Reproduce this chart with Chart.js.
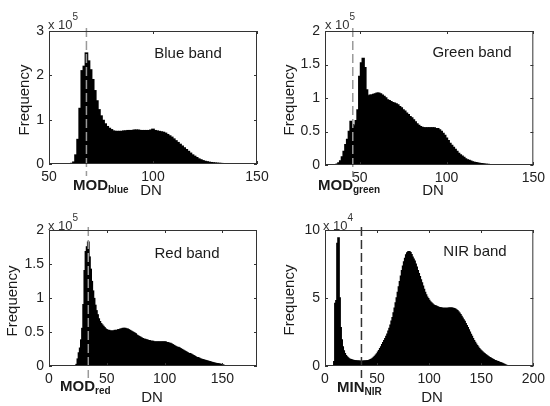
<!DOCTYPE html>
<html>
<head>
<meta charset="utf-8">
<script src="https://cdn.jsdelivr.net/npm/chart.js@4.4.1/dist/chart.umd.min.js"></script>
<style>
  body { margin: 0; background: #fff; }
  #wrap { position: relative; width: 550px; height: 406px; font-family: "Liberation Sans", Arial, sans-serif; color: #1a1a1a; }
  canvas { position: absolute; }
  .t { position: absolute; white-space: nowrap; line-height: 1; transform: translate(-50%, -50%); font-size: 15px; }
  .ylab { transform: translate(-50%, -50%) rotate(-90deg); }
  .mod { position: absolute; white-space: nowrap; line-height: 1; transform: translate(0, -50%); font-size: 15px; font-weight: bold; }
  .mod sub { font-size: 10px; vertical-align: -3px; }
  .exp { position: absolute; white-space: nowrap; line-height: 1; transform: translate(0, -50%); font-size: 13px; color: #333; }
  .exp sup { font-size: 10px; vertical-align: 9px; }
</style>
</head>
<body>
<div id="wrap">
  <canvas id="blueChart" width="275" height="203" style="left:0;top:0"></canvas>
  <canvas id="greenChart" width="275" height="203" style="left:275px;top:0"></canvas>
  <canvas id="redChart" width="275" height="203" style="left:0;top:203px"></canvas>
  <canvas id="nirChart" width="275" height="203" style="left:275px;top:203px"></canvas>

  <span class="exp" style="left:48px;top:21px">x 10<sup>5</sup></span>
  <span class="t" style="left:188px;top:52px">Blue band</span>
  <span class="t ylab" style="left:23px;top:100px">Frequency</span>
  <span class="mod" style="left:73px;top:186px">MOD<sub>blue</sub></span>
  <span class="t" style="left:151px;top:189px">DN</span>

  <span class="exp" style="left:325px;top:21px">x 10<sup>5</sup></span>
  <span class="t" style="left:472px;top:51px">Green band</span>
  <span class="t ylab" style="left:288px;top:100px">Frequency</span>
  <span class="mod" style="left:318px;top:186px">MOD<sub>green</sub></span>
  <span class="t" style="left:433px;top:189px">DN</span>

  <span class="exp" style="left:48px;top:222px">x 10<sup>5</sup></span>
  <span class="t" style="left:187px;top:252px">Red band</span>
  <span class="t ylab" style="left:11px;top:301px">Frequency</span>
  <span class="mod" style="left:60px;top:387px">MOD<sub>red</sub></span>
  <span class="t" style="left:152px;top:396px">DN</span>

  <span class="exp" style="left:323px;top:222px">x 10<sup>4</sup></span>
  <span class="t" style="left:475px;top:250px">NIR band</span>
  <span class="t ylab" style="left:288px;top:300px">Frequency</span>
  <span class="mod" style="left:337px;top:388px">MIN<sub>NIR</sub></span>
  <span class="t" style="left:432px;top:396px">DN</span>
</div>

<script>
// ------------------------------
// Data (frequency per DN bin, in units of the axis multiplier)
// ------------------------------

const blueStart = 60;
const blueFreq = [
    0.005, 0.01, 0.04, 0.2, 0.55, 1.25, 2.1, 2.2, 2.5, 2.32,
    2.12, 1.9, 1.65, 1.42, 1.22, 1.08, 0.98, 0.9, 0.84, 0.8,
    0.77, 0.74, 0.73, 0.73, 0.73, 0.73, 0.74, 0.74, 0.75, 0.75,
    0.75, 0.76, 0.76, 0.76, 0.75, 0.75, 0.75, 0.75, 0.75, 0.76,
    0.78, 0.75, 0.74, 0.73, 0.72, 0.71, 0.69, 0.66, 0.63, 0.6,
    0.56, 0.52, 0.48, 0.44, 0.4, 0.36, 0.32, 0.28, 0.24, 0.2,
    0.17, 0.14, 0.11, 0.09, 0.07, 0.055, 0.045, 0.035, 0.028, 0.022,
    0.017, 0.013, 0.01, 0.007, 0.004
];
const blueMode = 68;

const greenStart = 37;
const greenFreq = [
    0.01, 0.03, 0.06, 0.12, 0.2, 0.3, 0.38, 0.5, 0.65, 0.6,
    0.58, 0.66, 0.82, 1.32, 1.52, 1.59, 1.45, 1.12, 1.03, 1.04,
    1.04, 1.05, 1.06, 1.07, 1.07, 1.06, 1.04, 1.02, 1.0, 0.97,
    0.96, 0.945, 0.93, 0.92, 0.91, 0.895, 0.87, 0.85, 0.82, 0.8,
    0.77, 0.75, 0.72, 0.7, 0.67, 0.64, 0.61, 0.59, 0.57, 0.56,
    0.55, 0.55, 0.55, 0.55, 0.55, 0.55, 0.55, 0.54, 0.54, 0.52,
    0.5, 0.47, 0.44, 0.4, 0.36, 0.32, 0.29, 0.26, 0.23, 0.2,
    0.17, 0.15, 0.13, 0.11, 0.09, 0.075, 0.065, 0.055, 0.045, 0.038,
    0.032, 0.027, 0.022, 0.018, 0.014, 0.011, 0.008, 0.006, 0.004, 0.002
];
const greenMode = 46;

const redStart = 24;
const redFreq = [
    0.02, 0.1, 0.19, 0.26, 0.38, 0.55, 0.9, 1.4, 1.68, 1.75,
    1.82, 1.6, 1.42, 1.24, 1.1, 0.99, 0.89, 0.81, 0.75, 0.69,
    0.65, 0.62, 0.6, 0.58, 0.56, 0.54, 0.53, 0.52, 0.52, 0.51,
    0.51, 0.51, 0.51, 0.52, 0.52, 0.52, 0.53, 0.53, 0.54, 0.54,
    0.55, 0.55, 0.55, 0.54, 0.54, 0.53, 0.52, 0.51, 0.5, 0.49,
    0.48, 0.47, 0.45, 0.44, 0.43, 0.42, 0.41, 0.4, 0.39, 0.39,
    0.38, 0.38, 0.37, 0.37, 0.36, 0.36, 0.36, 0.35, 0.35, 0.35,
    0.35, 0.35, 0.35, 0.35, 0.35, 0.35, 0.35, 0.35, 0.34, 0.34,
    0.33, 0.33, 0.32, 0.31, 0.3, 0.29, 0.28, 0.27, 0.27, 0.26,
    0.25, 0.24, 0.23, 0.22, 0.21, 0.2, 0.19, 0.18, 0.18, 0.17,
    0.16, 0.15, 0.14, 0.13, 0.12, 0.12, 0.11, 0.1, 0.095, 0.09,
    0.085, 0.08, 0.075, 0.07, 0.065, 0.06, 0.055, 0.05, 0.045, 0.04,
    0.036, 0.033, 0.03, 0.027, 0.024, 0.02, 0.015, 0.008
];
const redMode = 34;

const nirStart = 9;
const nirFreq = [
    0.3, 4.6, 4.8, 9.0, 9.4, 5.0, 2.8, 1.9, 1.4, 1.1,
    0.9, 0.75, 0.65, 0.58, 0.52, 0.48, 0.45, 0.42, 0.4, 0.38,
    0.37, 0.36, 0.35, 0.34, 0.34, 0.33, 0.33, 0.33, 0.34, 0.34,
    0.35, 0.36, 0.37, 0.39, 0.41, 0.45, 0.5, 0.55, 0.62, 0.7,
    0.78, 0.88, 1.0, 1.12, 1.26, 1.4, 1.55, 1.7, 1.85, 2.0,
    2.16, 2.34, 2.55, 2.75, 3.0, 3.28, 3.55, 3.9, 4.25, 4.62,
    5.0, 5.4, 5.8, 6.2, 6.6, 7.0, 7.33, 7.65, 7.9, 8.15,
    8.3, 8.38, 8.4, 8.32, 8.18, 8.0, 7.85, 7.7, 7.48, 7.25,
    7.0, 6.78, 6.55, 6.32, 6.1, 5.86, 5.62, 5.4, 5.22, 5.06,
    4.95, 4.82, 4.7, 4.62, 4.55, 4.48, 4.43, 4.4, 4.37, 4.33,
    4.3, 4.28, 4.26, 4.24, 4.23, 4.22, 4.22, 4.22, 4.22, 4.23,
    4.24, 4.25, 4.25, 4.24, 4.22, 4.2, 4.17, 4.12, 4.05, 3.97,
    3.87, 3.77, 3.63, 3.5, 3.38, 3.26, 3.1, 2.95, 2.8, 2.65,
    2.48, 2.32, 2.17, 2.0, 1.86, 1.72, 1.6, 1.48, 1.37, 1.27,
    1.18, 1.1, 1.03, 0.96, 0.89, 0.83, 0.77, 0.72, 0.66, 0.61,
    0.56, 0.51, 0.47, 0.43, 0.39, 0.36, 0.33, 0.3, 0.27, 0.24,
    0.21, 0.18, 0.14, 0.1, 0.07, 0.04, 0.02
];
const nirMin = 35;

// tick values
const blueXTicks = [50, 100, 150];
const blueYTicks = [0, 1, 2, 3];
const greenXTicks = [50, 100, 150];
const greenYTicks = [0, 0.5, 1, 1.5, 2];
const redXTicks = [0, 50, 100, 150];
const redYTicks = [0, 0.5, 1, 1.5, 2];
const nirXTicks = [0, 50, 100, 150, 200];
const nirYTicks = [0, 5, 10];


Chart.defaults.font.family = "'Liberation Sans', Arial, sans-serif";
Chart.defaults.font.size = 14;
Chart.defaults.color = "#222";


// ------------------------------
// Matlab-like box, inward ticks and dashed marker
// ------------------------------

const matlabBox = {

    id: "matlabBox",

    afterDraw(chart, args, opts) {

        const ctx = chart.ctx;
        const a = chart.chartArea;
        const xs = chart.scales.x;
        const ys = chart.scales.y;

        ctx.save();

        // dashed marker line
        const px = xs.getPixelForValue(opts.mark);
        ctx.strokeStyle = opts.markColor;
        ctx.lineWidth = 1.5;
        ctx.setLineDash([9, 4]);
        ctx.beginPath();
        ctx.moveTo(px, a.top - 3);
        ctx.lineTo(px, a.bottom + 12);
        ctx.stroke();
        ctx.setLineDash([]);

        // box
        ctx.strokeStyle = "#333";
        ctx.lineWidth = 1;
        ctx.strokeRect(a.left + 0.5, a.top + 0.5, a.right - a.left - 1, a.bottom - a.top - 1);

        // inward ticks on all four sides
        ctx.beginPath();
        xs.ticks.forEach(t => {
            const p = Math.round(xs.getPixelForValue(t.value)) + 0.5;
            ctx.moveTo(p, a.bottom); ctx.lineTo(p, a.bottom - 3);
            ctx.moveTo(p, a.top); ctx.lineTo(p, a.top + 3);
        });
        ys.ticks.forEach(t => {
            const p = Math.round(ys.getPixelForValue(t.value)) + 0.5;
            ctx.moveTo(a.left, p); ctx.lineTo(a.left + 3, p);
            ctx.moveTo(a.right, p); ctx.lineTo(a.right - 3, p);
        });
        ctx.stroke();

        ctx.restore();

    }

};


// area = [left, top, right, bottom] of the plot box inside the 275x203 canvas
function makeHist(id, start, freq, xMin, xMax, xTicks, yMax, yTicks, mark, markColor, area) {

    const H = 203;
    const W = 275;

    return new Chart(document.getElementById(id), {

        type: "bar",

        data: {

            datasets: [{

                data: freq.map((v, i) => ({ x: start + i, y: v })),

                backgroundColor: "#000",
                borderWidth: 0,
                inflateAmount: 0.8,
                barPercentage: 1,
                categoryPercentage: 1

            }]

        },

        options: {

            responsive: false,
            animation: false,

            layout: { padding: { left: 0, top: area[1], right: W - area[2], bottom: 0 } },

            plugins: {
                legend: { display: false },
                tooltip: { enabled: false },
                matlabBox: { mark: mark, markColor: markColor }
            },

            scales: {

                x: {
                    type: "linear",
                    min: xMin,
                    max: xMax,
                    offset: false,
                    grid: { display: false, drawTicks: false },
                    border: { display: false },
                    ticks: { autoSkip: false, maxRotation: 0, padding: 5, callback: v => String(v) },
                    afterBuildTicks: s => { s.ticks = xTicks.map(v => ({ value: v })); },
                    afterFit: s => { s.height = H - area[3]; }
                },

                y: {
                    min: 0,
                    max: yMax,
                    grid: { display: false, drawTicks: false },
                    border: { display: false },
                    ticks: { autoSkip: false, padding: 5, callback: v => String(v) },
                    afterBuildTicks: s => { s.ticks = yTicks.map(v => ({ value: v })); },
                    afterFit: s => { s.width = area[0]; }
                }

            }

        },

        plugins: [matlabBox]

    });

}


const blueChart = makeHist("blueChart", blueStart, blueFreq, 50, 150, blueXTicks, 3, blueYTicks,
    blueMode, "#9a9a9a", [49, 31, 257, 164]);

const greenChart = makeHist("greenChart", greenStart, greenFreq, 30, 150, greenXTicks, 2, greenYTicks,
    greenMode, "#9a9a9a", [50, 31, 259, 165]);

const redChart = makeHist("redChart", redStart, redFreq, 0, 180, redXTicks, 2, redYTicks,
    redMode, "#9a9a9a", [49, 27, 257, 163]);

const nirChart = makeHist("nirChart", nirStart, nirFreq, 0, 200, nirXTicks, 10, nirYTicks,
    nirMin, "#333", [50, 27, 259, 163]);
</script>
</body>
</html>
